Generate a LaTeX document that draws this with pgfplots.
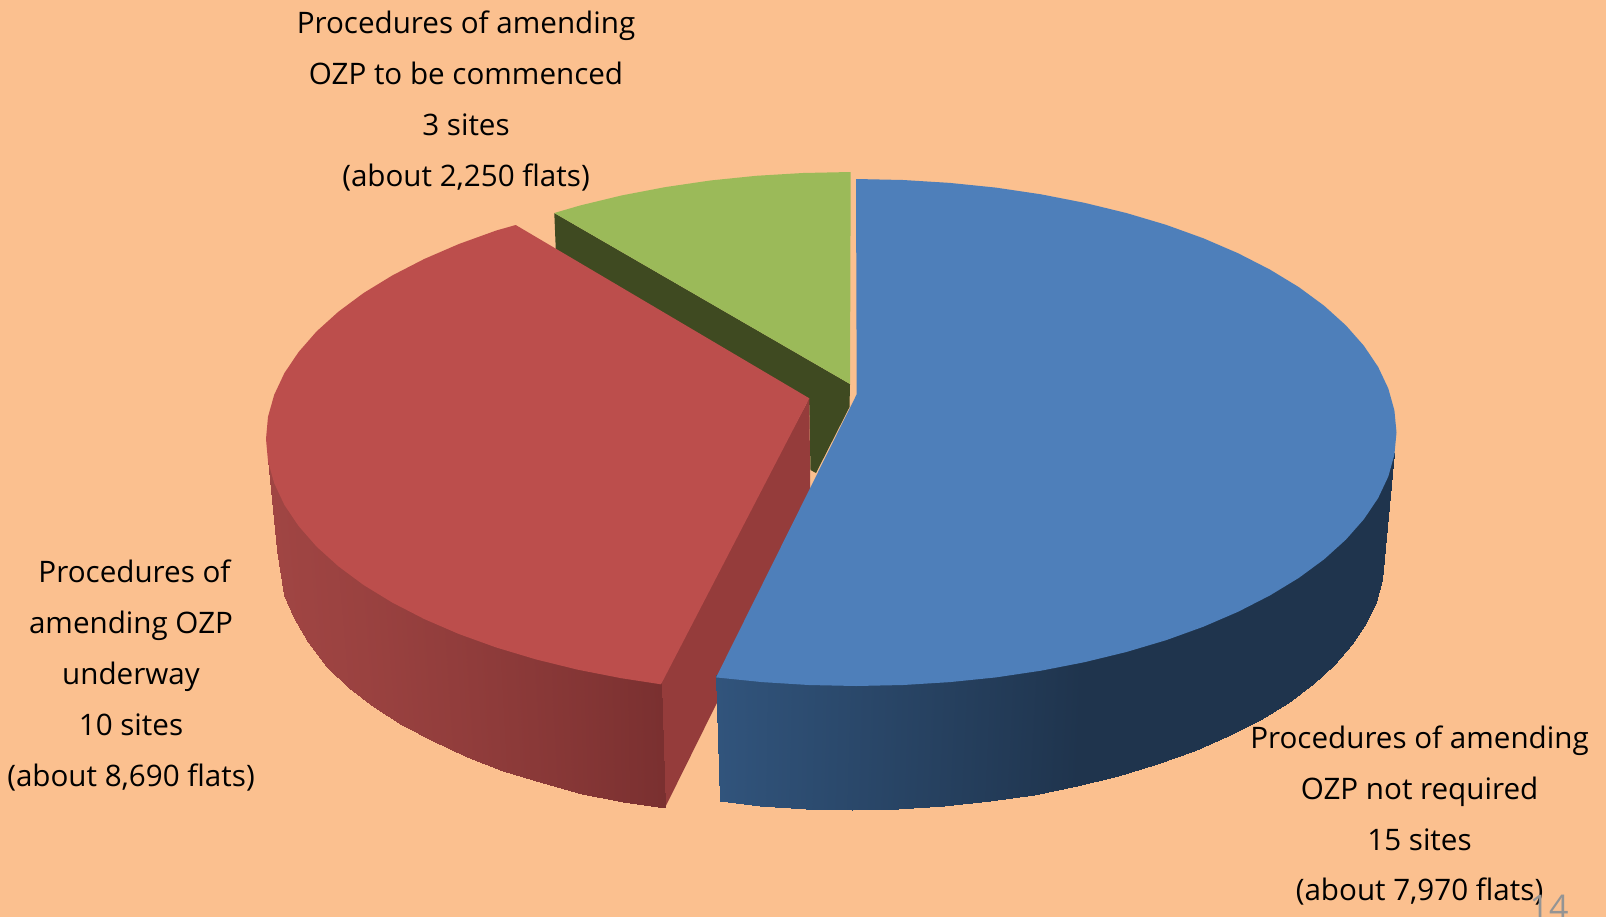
\documentclass[border=0pt]{standalone}
\usepackage{fontspec}
\setmainfont{Open Sans}
\usepackage{pgfplots}
\pgfplotsset{compat=1.18}
\definecolor{pagebg}{HTML}{FBC08F}
\definecolor{bluetop}{HTML}{4E7FBA}
\definecolor{redtop}{HTML}{BC4E4C}
\definecolor{redinner}{HTML}{953C3B}
\definecolor{greentop}{HTML}{9BBA59}
\definecolor{greenside}{HTML}{3F4A21}
\pgfplotsset{
  colormap={bluewall}{rgb255(0cm)=(49,84,124) rgb255(1cm)=(31,52,77)},
  colormap={redwall}{rgb255(0cm)=(160,69,67) rgb255(1cm)=(122,48,48)},
}
\newcommand{\lbl}[3]{\node[anchor=base,inner sep=0pt,font=\fontsize{14.8pt}{18pt}\selectfont,text=black] at (axis cs:#1,#2) {#3};}
\begin{document}
\begin{tikzpicture}
\useasboundingbox (0,0.5pt) rectangle (803pt,458.5pt);
\clip (-3pt,-3pt) rectangle (806pt,461pt);
\fill[pagebg] (-3pt,-3pt) rectangle (806pt,461pt);
\begin{axis}[
  width=803pt, height=458.5pt, scale only axis,
  xmin=0, xmax=1606, ymin=0, ymax=917, y dir=reverse,
  hide axis, clip=false,
  point meta min=0, point meta max=1,
]
% green slice: end wall, then top face
\addplot[draw=none, fill=greenside] coordinates {
  (554.3,213) (850,384) (849.5,407) (816,473) (810.5,470) (809.3,405) (556,255)
} -- cycle;
\addplot[draw=none, fill=greentop] coordinates {
  (850.7,172) (802.9,173) (756.2,175.8) (710.2,180.5) (665.3,187.1)
  (621.8,195.4) (580,205.5) (554.3,213) (850,384)
} -- cycle;
% red slice: inner wall, outer wall, top face
\addplot[draw=none, fill=redinner] coordinates {
  (809.3,398.3) (658,680) (663,807.2) (665,807.7) (810.5,514)
} -- cycle;
\addplot[surf, shader=interp, colormap name=redwall, mesh/rows=2, point meta=explicit]
  table[meta=c] {
x y c
661 682 1
621.3 676 .86
577.8 667.5 .72
536 657 .6
496.3 645 .49
458.9 631.5 .39
424.2 616.5 .31
392.4 600 .23
363.6 582.5 .17
338.4 564 .12
316.6 544 .08
298.6 524 .05
284.4 502.5 .02
274.2 481 .01
268 459 0

665 807.7 1
623 802 .86
582 794 .72
543 783 .6
503 771 .49
467 757 .39
433 741 .31
402 725 .23
374 706.6 .17
349 688 .12
326.7 666.7 .08
308 642 .05
294 618 .02
284 595 .01
277.5 550 0
};
\addplot[draw=none, fill=redtop] coordinates {
  (809.3,398.3) (661,684.3) (621.3,678.2) (577.8,669.7) (536,659.4) (496.3,647.5)
  (458.9,634) (424.2,619) (392.4,602.6) (363.6,585) (338.4,566.3) (316.6,546.6)
  (298.6,526) (284.4,504.9) (274.2,483.2) (268,461.2) (266,439) (268,416.8)
  (274.2,394.8) (284.4,373.1) (298.6,352) (316.6,331.4) (338.4,311.7) (363.6,293)
  (392.4,275.4) (424.2,259) (458.9,244) (496.3,230.5) (515.7,225)
} -- cycle;
% blue slice: outer wall, then top face
\addplot[surf, shader=interp, colormap name=bluewall, mesh/rows=2, point meta=explicit]
  table[meta=c] {
x y c
716.1 675 0
762.2 680 .125
808.9 683 .25
856 684 .375
903.1 683 .5
949.8 680 .625
995.9 675 .75
1040.9 668.5 .875
1084.4 660 1
1126.3 650 1
1166 638 1
1203.4 624.5 1
1238.2 609.5 1
1270 593 1
1298.8 575.5 1
1324.1 557 1
1345.9 537 1
1363.9 517 1
1378.1 496 1
1388.3 474.5 1
1394.4 452.5 1

720 801.3 0
759.6 806.2 .125
805.6 809 .25
852 810 .375
898.4 809 .5
944.4 806.2 .625
989.7 801.4 .75
1034 794.8 .875
1076.8 786.4 1
1118 776.2 1
1157.2 764.4 1
1194 751 1
1228.2 736.2 1
1259.5 720 1
1287.8 702.5 1
1312.7 684 1
1334.2 664.5 1
1351.9 644.2 1
1365.9 623.2 1
1375.9 601.7 1
1382 580 1
};
\addplot[draw=none, fill=bluetop] coordinates {
  (856.7,394.3) (856,179) (903.1,180) (949.8,182.9) (995.9,187.6) (1040.9,194.3)
  (1084.4,202.8) (1126.3,213) (1166,224.8) (1203.4,238.3) (1238.2,253.3)
  (1270,269.6) (1298.8,287.1) (1324.1,305.7) (1345.9,325.4) (1363.9,345.8)
  (1378.1,366.9) (1388.3,388.5) (1394.4,410.4) (1396.5,432.5) (1394.4,454.6)
  (1388.3,476.5) (1378.1,498.1) (1363.9,519.2) (1345.9,539.6) (1324.1,559.3)
  (1298.8,577.9) (1270,595.4) (1238.2,611.7) (1203.4,626.7) (1166,640.2)
  (1126.3,652) (1084.4,662.2) (1040.9,670.7) (995.9,677.4) (949.8,682.1)
  (903.1,685) (856,686) (808.9,685) (762.2,682.1) (716.1,677.4)
} -- cycle;
% slice captions
\lbl{466}{33}{Procedures of amending}
\lbl{466}{84}{OZP to be commenced}
\lbl{466}{135}{3 sites}
\lbl{466}{186}{(about 2,250 flats)}
\lbl{134.5}{582.5}{Procedures of}
\lbl{131}{633.5}{amending OZP}
\lbl{131}{684.5}{underway}
\lbl{131}{735.5}{10 sites}
\lbl{131}{786.5}{(about 8,690 flats)}
\lbl{1419.5}{748}{Procedures of amending}
\lbl{1419.5}{799}{OZP not required}
\lbl{1419.5}{850}{15 sites}
\lbl{1419.5}{900.5}{(about 7,970 flats)}
% slide number, cut off by the page edge
\node[anchor=base,inner sep=0pt,font=\fontsize{17pt}{18pt}\selectfont,text=black!42] at (axis cs:1549,919) {14};
\end{axis}
\end{tikzpicture}
\end{document}
